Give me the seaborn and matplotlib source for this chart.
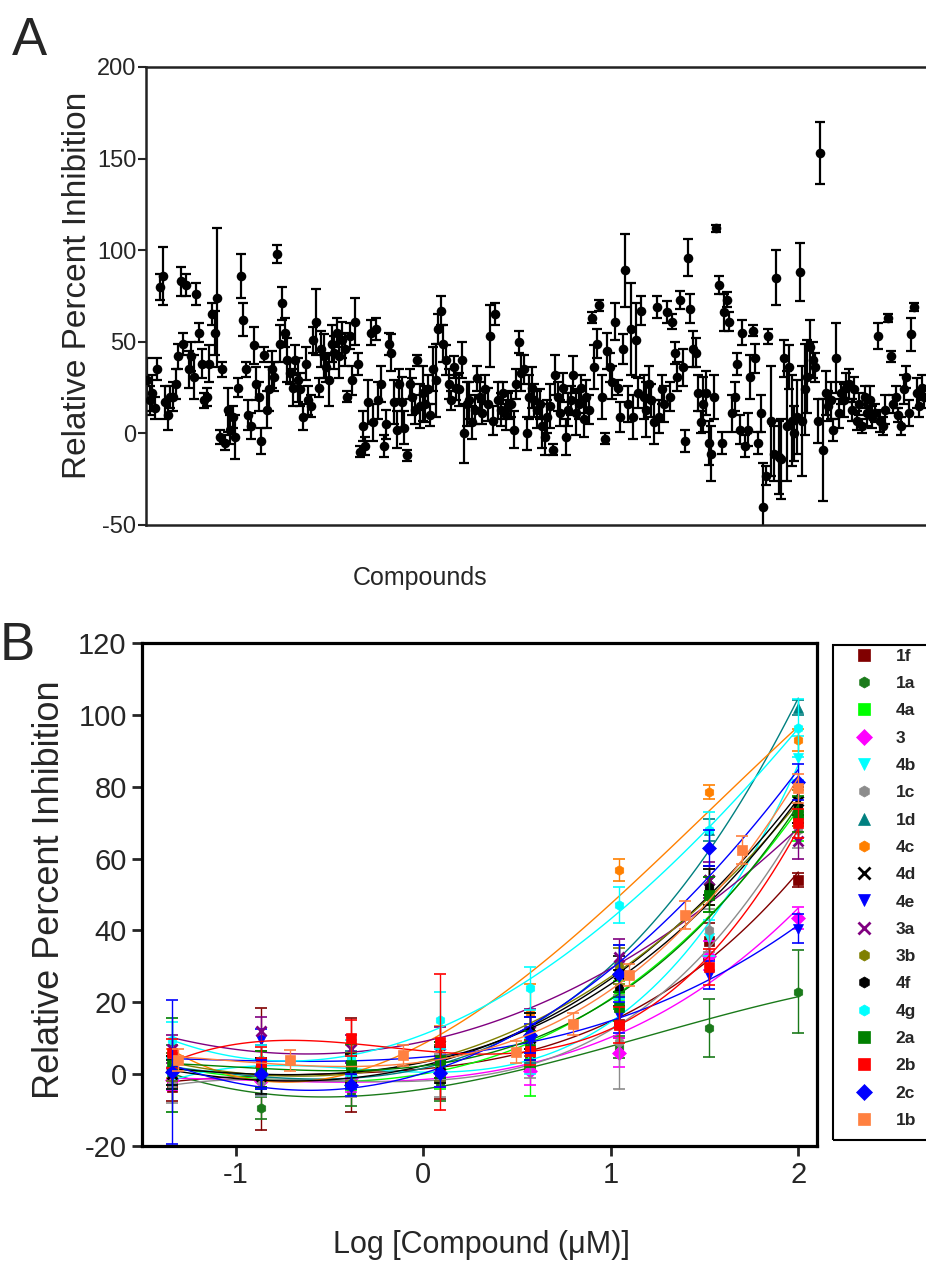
import matplotlib
matplotlib.use('Agg')
import matplotlib.pyplot as plt
import seaborn as sns
import numpy as np
import pandas as pd
from matplotlib.patches import Rectangle
from matplotlib.lines import Line2D

# ---- panel A: single-dose screen (mean, sd) in plate order ----
screen_mean = [
    29, 18, 22, 14, 35, 80, 86, 17, 10, 20,
    20, 27, 42, 83, 49, 81, 35, 42, 31, 76,
    55, 38, 18, 20, 38, 65, 55, 74, -2, 35,
    -5, 13, 2, 9, -2, 25, 86, 62, 35, 10,
    4, 48, 27, 20, -4, 43, 13, 24, 35, 31,
    98, 49, 71, 55, 40, 33, 25, 40, 29, 24,
    9, 38, 18, 15, 51, 61, 25, 46, 42, 36,
    29, 49, 44, 55, 42, 51, 46, 20, 53, 29,
    61, 38, -10, 4, -7, 17, 55, 6, 57, 18,
    27, -7, 5, 49, 44, 17, 2, 27, 17, 3,
    -12, 27, 20, 13, 40, 15, 22, 16, 24, 10,
    35, 29, 57, 67, 49, 40, 27, 18, 36, 25,
    24, 40, 0, 16, 18, 6, 13, 30, 20, 11,
    24, 16, 53, 7, 65, 18, 13, 22, 10, 15,
    16, 2, 27, 50, 33, 35, 0, 20, 25, 18,
    13, 16, 4, -2, 9, 15, -9, 32, 20, 11,
    25, -2, 13, 18, 32, 11, 16, 25, 8, 20,
    13, 63, 36, 49, 70, 20, -3, 45, 36, 28,
    61, 25, 9, 46, 89, 16, 57, 9, 51, 22,
    67, 20, 13, 27, 18, 6, 69, 9, 24, 16,
    66, 20, 61, 44, 31, 73, 36, -4, 96, 68,
    46, 44, 22, 6, 16, 22, -5, -11, 20, 112,
    81, -5, 66, 73, 61, 11, 20, 38, 2, 55,
    -7, 2, 31, 56, 41, -5, 11, -40, -23, 53,
    7, -11, 85, -13, -14, 41, 4, 36, 7, 0,
    9, 88, 7, 24, 31, 47, 40, 36, 7, 153,
    -9, 22, 15, 18, 2, 41, 11, 22, 18, 25,
    27, 13, 24, 7, 16, 4, 20, 11, 18, 9,
    11, 53, 7, 4, 13, 63, 42, 16, 20, 10,
    4, 24, 31, 11, 54, 69, 22, 15, 25, 20,
]
screen_sd = [
    12, 8, 10, 6, 6, 7, 16, 9, 8, 6,
    8, 8, 7, 8, 6, 6, 10, 8, 12, 6,
    5, 8, 4, 5, 10, 6, 12, 38, 4, 4,
    4, 12, 8, 6, 12, 5, 12, 9, 4, 8,
    7, 10, 9, 8, 7, 4, 10, 12, 10, 8,
    5, 10, 9, 8, 12, 6, 10, 8, 12, 9,
    7, 9, 8, 6, 7, 18, 5, 10, 12, 8,
    14, 10, 9, 8, 12, 10, 9, 3, 7, 8,
    13, 6, 3, 8, 5, 12, 7, 10, 6, 10,
    10, 6, 8, 6, 10, 12, 10, 8, 14, 9,
    3, 8, 10, 8, 3, 12, 15, 10, 8, 6,
    12, 20, 8, 8, 10, 8, 8, 5, 6, 7,
    9, 10, 16, 12, 10, 9, 8, 7, 8, 6,
    8, 9, 17, 8, 6, 10, 9, 6, 8, 7,
    7, 10, 8, 6, 10, 8, 9, 12, 11, 9,
    10, 8, 12, 10, 9, 12, 3, 11, 8, 7,
    8, 10, 9, 8, 10, 12, 8, 7, 10, 9,
    8, 3, 12, 8, 3, 12, 3, 10, 8, 9,
    10, 4, 8, 8, 20, 10, 25, 12, 20, 8,
    8, 12, 15, 10, 9, 12, 6, 9, 8, 10,
    6, 8, 4, 6, 8, 5, 10, 6, 10, 8,
    10, 8, 10, 6, 15, 12, 12, 15, 12, 2,
    5, 6, 10, 4, 5, 10, 8, 6, 8, 7,
    6, 9, 12, 3, 8, 6, 10, 24, 5, 4,
    30, 15, 15, 20, 22, 10, 30, 12, 25, 15,
    20, 16, 30, 25, 20, 15, 10, 8, 12, 17,
    28, 12, 8, 10, 6, 19, 8, 6, 9, 8,
    8, 6, 7, 5, 6, 4, 6, 7, 8, 6,
    5, 7, 6, 5, 8, 2, 3, 5, 6, 4,
    5, 8, 6, 7, 9, 2, 8, 6, 7, 6,
]

# ---- panel B: dose response ----
compounds = ['1f', '1a', '4a', '3', '4b', '1c', '1d', '4c', '4d',
             '4e', '3a', '3b', '4f', '4g', '2a', '2b', '2c', '1b']
log_conc = [-1.34, -0.863, -0.386, 0.091, 0.569, 1.046, 1.523, 2.0]
log_conc_1b = [-1.31, -0.709, -0.107, 0.495, 0.796, 1.097, 1.398, 1.699, 2.0]
resp_mean = [
    [-3.5, 1.5, 2.5, -1.0, 5.5, 14.0, 37.0, 54.0],
    [2.0, -9.5, -5.0, -2.5, 4.0, 7.5, 12.8, 23.0],
    [1.0, -1.0, 0.5, 2.0, 3.0, 22.0, 50.0, 71.0],
    [-1.5, -2.0, -1.0, 0.5, 1.0, 6.0, 33.0, 43.5],
    [0.0, -1.0, 1.0, 3.0, 5.0, 17.0, 38.0, 88.0],
    [-3.0, -2.0, -1.5, -0.5, 3.0, 9.0, 40.0, 68.0],
    [1.0, 0.0, 1.5, 3.0, 8.0, 32.0, 68.0, 102.0],
    [3.0, 4.0, 4.0, 7.5, 17.0, 56.8, 78.6, 93.0],
    [0.0, -0.5, 1.0, 2.5, 10.0, 28.0, 54.0, 76.0],
    [2.0, 9.5, 1.0, 3.0, 9.0, 16.5, 27.6, 40.5],
    [7.0, 12.0, 7.0, 8.0, 12.0, 32.7, 54.0, 65.0],
    [2.0, 1.5, 2.0, 3.0, 11.0, 30.0, 52.0, 74.0],
    [1.0, 0.5, 1.5, 4.0, 12.0, 24.0, 52.0, 75.0],
    [9.5, 4.0, 4.5, 15.0, 23.9, 47.0, 68.0, 96.3],
    [2.5, 1.5, 2.5, 4.0, 7.0, 18.8, 50.0, 72.5],
    [5.8, 3.5, 10.0, 9.0, 6.5, 13.7, 29.8, 69.8],
    [0.5, 0.0, -3.0, 0.3, 11.0, 28.0, 63.0, 81.4],
    [4.0, 3.8, 5.2, 6.2, 14.0, 27.6, 44.3, 62.4, 79.6],
]
resp_err = [
    [4, 17, 13, 6, 4, 4, 5, 2],
    [6, 3, 4, 5, 3, 3, 8, 11.5],
    [4, 5, 5, 6, 9, 4, 5, 6],
    [3, 4, 4, 4, 4, 4, 4, 3],
    [4, 5, 4, 5, 5, 4, 5, 6],
    [5, 4, 5, 6, 4, 13, 6, 5],
    [4, 4, 5, 5, 5, 4, 3, 2],
    [4, 4, 4, 6, 8, 3, 2, 3],
    [4, 5, 4, 5, 6, 5, 4, 4],
    [4, 3, 5, 5, 5, 5, 4, 4],
    [4, 4, 4, 5, 6, 5, 5, 5],
    [4, 5, 4, 5, 6, 5, 5, 5],
    [4, 4, 4, 5, 5, 5, 5, 5],
    [5, 4, 5, 8, 6, 5, 5, 8],
    [13, 5, 6, 5, 5, 4, 5, 5],
    [4, 4, 5, 19, 4, 5, 5, 4],
    [20, 4, 3, 4, 5, 8, 5, 5],
    [3, 3, 3, 3, 3, 3, 4, 4, 4],
]

colors = ['#800000', '#1a7a1a', '#00ff00', '#ff00ff', '#00ffff', '#8c8c8c',
          '#008080', '#ff8000', '#000000', '#0000ff', '#800080', '#808000',
          '#000000', '#00ffff', '#008000', '#ff0000', '#0000ff', '#ff8040']
markers = ['s', 'h', 's', 'D', 'v', 'h', '^', 'h', 'x',
           'v', 'x', 'h', 'h', 'h', 's', 's', 'D', 's']

rows = []
for name, ys, es in zip(compounds, resp_mean, resp_err):
    xs = log_conc_1b if name == '1b' else log_conc
    for x, y, e in zip(xs, ys, es):
        rows.append({'compound': name, 'logc': x, 'inhib': y, 'err': e})
df_b = pd.DataFrame(rows)

sns.set_theme(style='ticks')
plt.rcParams['font.family'] = ['Liberation Sans', 'DejaVu Sans']
plt.rcParams['axes.unicode_minus'] = False

W, H = 926, 1267
fig = plt.figure(figsize=(W / 100, H / 100), dpi=100)

# ---------- A ----------
axA = fig.add_axes([146 / W, 1 - 525 / H, 780 / W, 458 / H])
df_a = pd.DataFrame({'idx': np.arange(len(screen_mean)), 'mean': screen_mean, 'sd': screen_sd})
axA.errorbar(df_a['idx'], df_a['mean'], yerr=df_a['sd'], fmt='none', ecolor='black',
             elinewidth=1.6, capsize=3.5, capthick=1.6)
sns.scatterplot(data=df_a, x='idx', y='mean', ax=axA, color='black', s=48,
                linewidth=0, zorder=3)
axA.set_xlim(-0.4, 299.6)
axA.set_ylim(-50, 200)
axA.set_yticks([-50, 0, 50, 100, 150, 200])
axA.set_xticks([])
for s in ['left', 'top', 'bottom']:
    axA.spines[s].set_linewidth(1.8)
    axA.spines[s].set_color('#222222')
axA.spines['right'].set_visible(False)
axA.tick_params(axis='y', direction='out', length=6, width=1.5, pad=1, labelsize=17)
axA.set_xlabel('Compounds', fontsize=18)
axA.xaxis.set_label_coords((420 - 146) / 780, (525 - 578) / 458)
axA.xaxis.label.set_va('center')
axA.set_ylabel('Relative Percent Inhibition', fontsize=24)
axA.yaxis.set_label_coords((78 - 146) / 780, (525 - 285) / 458)
axA.yaxis.label.set_va('center')
fig.text(12 / W, 1 - 55 / H, 'A', fontsize=38, ha='left', va='baseline')

# ---------- B ----------
axB = fig.add_axes([142 / W, 1 - 1146 / H, 675 / W, 503 / H])
for name, c, m in zip(compounds, colors, markers):
    sub = df_b[df_b['compound'] == name]
    sns.regplot(data=sub, x='logc', y='inhib', order=3, ci=None, scatter=False,
                truncate=True, ax=axB, line_kws={'color': c, 'lw': 1.0})
    axB.errorbar(sub['logc'], sub['inhib'], yerr=sub['err'], fmt='none', ecolor=c,
                 elinewidth=1.0, capsize=4, capthick=1.2)
    axB.plot(sub['logc'], sub['inhib'], ls='none', marker=m, color=c, ms=7,
             mew=2 if m == 'x' else 0.5)
axB.set_xlim(-1.5, 2.1)
axB.set_ylim(-20, 120)
axB.set_xticks([-1, 0, 1, 2])
axB.set_yticks(range(-20, 121, 20))
for s in axB.spines.values():
    s.set_linewidth(2.3)
    s.set_color('black')
axB.tick_params(direction='out', length=7, width=2, labelsize=21, pad=4)
axB.set_xlabel('Log [Compound (\u03bcM)]', fontsize=22)
axB.xaxis.set_label_coords((481 - 142) / 675, (1146 - 1245) / 503)
axB.xaxis.label.set_va('center')
axB.set_ylabel('Relative Percent Inhibition', fontsize=26)
axB.yaxis.set_label_coords((50 - 142) / 675, (1146 - 890) / 503)
axB.yaxis.label.set_va('center')
fig.text(0, 1 - 660 / H, 'B', fontsize=38, ha='left', va='baseline')

# legend box, cut by the right edge like the source figure
fig.patches.append(Rectangle((833 / W, 1 - 1140 / H), 120 / W, 495 / H,
                             transform=fig.transFigure, fill=False,
                             edgecolor='black', lw=1.5, clip_on=False))
handles = [Line2D([], [], ls='none', marker=m, color=c, ms=8,
                  mew=2 if m == 'x' else 0.5) for c, m in zip(colors, markers)]
leg = fig.legend(handles, compounds, loc='upper left',
                 bbox_to_anchor=(840 / W, 1 - 633 / H), frameon=False,
                 handlelength=1.0, handletextpad=1.3, labelspacing=0.70,
                 borderpad=0.4, prop={'weight': 'bold', 'size': 12.5})

fig.savefig('out.png', dpi=100)
